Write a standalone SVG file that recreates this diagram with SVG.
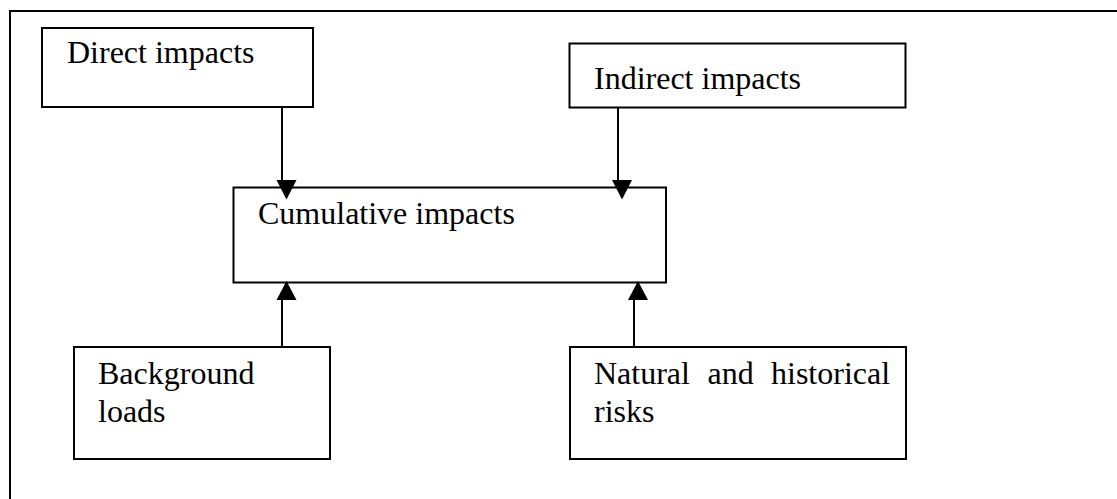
<svg xmlns="http://www.w3.org/2000/svg" width="1117" height="499" viewBox="0 0 1117 499">
<style>
.box{fill:#fff;stroke:#000;stroke-width:2}
.lbl{font-family:"Liberation Serif","Times New Roman",serif;font-size:32px;fill:#000}
.ln{stroke:#000;stroke-width:2;fill:none}
.hd{fill:#000;stroke:none}
</style>
<rect width="1117" height="499" fill="#fff"/>
<g id="frame"><path class="ln" d="M10,500 V11 H1120"/></g>
<g id="direct"><rect class="box" x="42" y="28" width="271" height="79"/><text class="lbl" x="67" y="63">Direct impacts</text></g>
<g id="indirect"><rect class="box" x="569.5" y="43.5" width="336" height="64"/><text class="lbl" x="594" y="89">Indirect impacts</text></g>
<g id="cumulative"><rect class="box" x="233.5" y="187.5" width="432.5" height="95"/><text class="lbl" x="258" y="224">Cumulative impacts</text></g>
<g id="background"><rect class="box" x="74" y="347" width="256" height="112"/><text class="lbl" x="98" y="384">Background</text><text class="lbl" x="98" y="422">loads</text></g>
<g id="natural"><rect class="box" x="570" y="347" width="336" height="112"/><text class="lbl" y="384"><tspan x="594">Natural</tspan><tspan x="707.5">and</tspan><tspan x="771">historical</tspan></text><text class="lbl" x="594" y="422">risks</text></g>
<g id="connectors">
<line class="ln" x1="282" y1="107" x2="282" y2="182"/><polygon class="hd" points="276.5,180 296.5,180 286.5,199.5"/>
<line class="ln" x1="618" y1="107.5" x2="618" y2="182"/><polygon class="hd" points="612,180 632,180 622,199.5"/>
<line class="ln" x1="282" y1="347" x2="282" y2="298"/><polygon class="hd" points="276.5,300 296.5,300 286.5,281"/>
<line class="ln" x1="634" y1="347" x2="634" y2="298"/><polygon class="hd" points="628,300 648,300 638,281"/>
</g>
</svg>
